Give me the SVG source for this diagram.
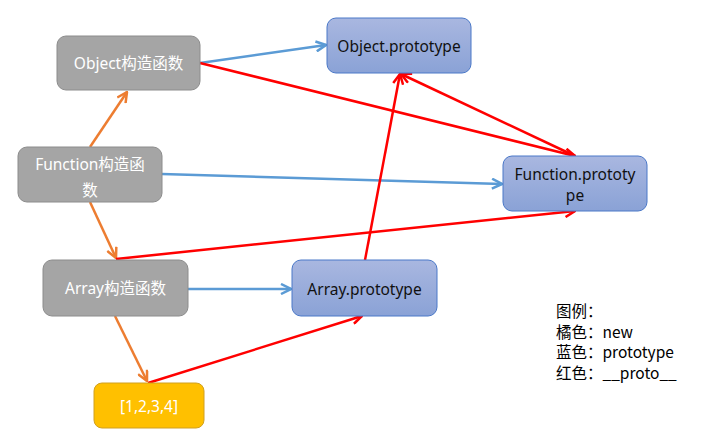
<svg xmlns="http://www.w3.org/2000/svg" width="711" height="448" viewBox="0 0 711 448">
<style>
.g{fill:#A5A5A5;stroke:#8C8C8C;stroke-width:1}
.b{fill:url(#bg);stroke:#4A78C8;stroke-width:1}
.y{fill:#FFC000;stroke:#D0A020;stroke-width:1}
.t{font-family:"Noto Sans","Noto Sans CJK SC",sans-serif;font-size:15.5px;text-anchor:middle;dominant-baseline:central}
.w{fill:#FFFFFF}
.k{fill:#111111}
.lg{font-family:"Noto Sans CJK SC","Noto Sans",sans-serif;font-size:15.5px;fill:#000}
.o{stroke:#ED7D31;stroke-width:2.5;fill:none;marker-end:url(#ao)}
.bl{stroke:#5B9BD5;stroke-width:2.5;fill:none;marker-end:url(#ab)}
.r{stroke:#FF0000;stroke-width:2.5;fill:none;marker-end:url(#ar)}
</style>
<defs>
<linearGradient id="bg" x1="0" y1="0" x2="0" y2="1">
<stop offset="0" stop-color="#A9B7E0"/>
<stop offset="1" stop-color="#8AA2D6"/>
</linearGradient>
<marker id="ao" viewBox="0 0 12 12" refX="11" refY="6" markerWidth="12" markerHeight="12" markerUnits="userSpaceOnUse" orient="auto"><path d="M1,1 L11,6 L1,11" fill="none" stroke="#ED7D31" stroke-width="2.5"/></marker>
<marker id="ab" viewBox="0 0 12 12" refX="11" refY="6" markerWidth="12" markerHeight="12" markerUnits="userSpaceOnUse" orient="auto"><path d="M1,1 L11,6 L1,11" fill="none" stroke="#5B9BD5" stroke-width="2.5"/></marker>
<marker id="ar" viewBox="0 0 12 12" refX="11" refY="6" markerWidth="12" markerHeight="12" markerUnits="userSpaceOnUse" orient="auto"><path d="M1,1 L11,6 L1,11" fill="none" stroke="#FF0000" stroke-width="2.5"/></marker>
</defs>
<rect width="711" height="448" fill="#FFFFFF"/>
<g id="connectors">
<line class="o" x1="90" y1="147" x2="127" y2="92"/>
<line class="o" x1="90" y1="202" x2="116" y2="258"/>
<line class="o" x1="115" y1="316" x2="147" y2="381"/>
<line class="bl" x1="200" y1="63" x2="326" y2="45"/>
<line class="bl" x1="162" y1="174" x2="502" y2="184"/>
<line class="bl" x1="188" y1="289" x2="291" y2="289"/>
<line class="r" x1="200" y1="63" x2="575" y2="156"/>
<line class="r" x1="575" y1="156" x2="401" y2="74"/>
<line class="r" x1="116" y1="259" x2="575" y2="211"/>
<line class="r" x1="148" y1="383" x2="362" y2="316"/>
<line class="r" x1="365" y1="260" x2="400" y2="74"/>
</g>
<g id="object-ctor"><rect class="g" x="57" y="36" width="143" height="54" rx="9"/><text class="t w" x="128.5" y="63">Object构造函数</text></g>
<g id="function-ctor"><rect class="g" x="18" y="147" width="144" height="55" rx="9"/><text class="t w" x="90" y="164">Function构造函</text><text class="t w" x="90" y="190">数</text></g>
<g id="array-ctor"><rect class="g" x="43" y="260" width="145" height="56" rx="9"/><text class="t w" x="115.5" y="288">Array构造函数</text></g>
<g id="object-proto"><rect class="b" x="327" y="18" width="144" height="55" rx="9"/><text class="t k" x="399" y="46">Object.prototype</text></g>
<g id="function-proto"><rect class="b" x="503" y="156" width="144" height="55" rx="9"/><text class="t k" x="575" y="174">Function.prototy</text><text class="t k" x="575" y="195">pe</text></g>
<g id="array-proto"><rect class="b" x="292" y="260" width="145" height="56" rx="9"/><text class="t k" x="364.5" y="289">Array.prototype</text></g>
<g id="array-instance"><rect class="y" x="94" y="383" width="110" height="45" rx="8"/><text class="t w" x="149" y="406">[1,2,3,4]</text></g>
<g id="legend">
<text class="lg" x="556" y="317">图例：</text>
<text class="lg" x="556" y="338">橘色：new</text>
<text class="lg" x="556" y="358">蓝色：prototype</text>
<text class="lg" x="556" y="379">红色：__proto__</text>
</g>
</svg>
